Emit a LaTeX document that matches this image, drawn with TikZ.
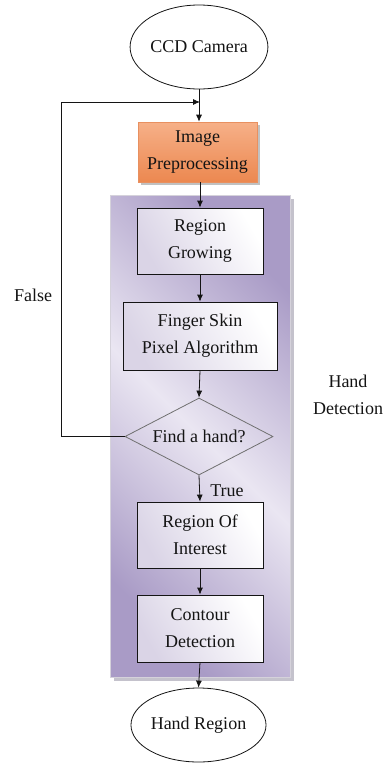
\documentclass[tikz,border=0pt]{standalone}
\usepackage{fontspec}
\setmainfont{Liberation Serif}
\newfontfamily\diagfont{Liberation Serif}
\usetikzlibrary{shapes.geometric,shadows,arrows.meta}
\definecolor{ink}{HTML}{141414}
\definecolor{orangetop}{HTML}{F6B088}
\definecolor{orangebot}{HTML}{EC8850}
\definecolor{orangeedge}{HTML}{E89060}
\definecolor{pdark}{HTML}{A99BC6}
\definecolor{plight}{HTML}{EAE6F2}
\definecolor{boxlav}{HTML}{DAD4E6}
\definecolor{dgray}{HTML}{707070}
\definecolor{panelshadow}{HTML}{C4C2CC}
\begin{document}
\begin{tikzpicture}[x=1pt,y=-1pt,
  every node/.style={font=\diagfont\fontsize{18}{27}\selectfont, text=ink, align=center, inner sep=0pt},
  terminal/.style={ellipse, draw=ink, line width=0.8pt, fill=white},
  prebox/.style={rectangle, draw=orangeedge, line width=0.6pt, top color=orangetop, bottom color=orangebot,
    drop shadow={shadow xshift=3pt, shadow yshift=-3pt, fill=gray!70, opacity=0.7}},
  stepbox/.style={rectangle, draw=ink, line width=0.8pt, left color=white, right color=boxlav, shading angle=-60},
  decision/.style={diamond, draw=dgray, line width=0.8pt, aspect=1.9},
  flow/.style={draw=ink, line width=0.8pt, -{Latex[length=7pt,width=6pt]}},
  label/.style={font=\diagfont\fontsize{18}{27}\selectfont}
]
\useasboundingbox (0,0) rectangle (384,763);

% detection panel with its shadow
\fill[panelshadow] (114,199) rectangle (294,681);
\shade[top color=pdark, bottom color=pdark, middle color=plight, shading angle=-45]
  (110,195) rectangle (290,677);
\draw[plight!80!gray, line width=0.5pt] (110,195) rectangle (290,677);

% nodes
\node[terminal, minimum width=128pt, minimum height=84pt] (cam) at (199,47) {CCD Camera};
\node[prebox, minimum width=119pt, minimum height=60pt] (pre) at (197.5,152) {Image\\Preprocessing};
\node[stepbox, minimum width=126pt, minimum height=66pt] (rg) at (200,241) {Region\\Growing};
\node[stepbox, minimum width=154pt, minimum height=68pt] (fs) at (200,336) {Finger Skin\\Pixel Algorithm};
\node[decision, minimum width=148pt, minimum height=77pt] (dec) at (199,436.5) {Find a hand?};
\node[stepbox, minimum width=126pt, minimum height=66pt] (roi) at (200,535) {Region Of\\Interest};
\node[stepbox, minimum width=126pt, minimum height=67pt] (cd) at (200,628.5) {Contour\\Detection};
\node[terminal, minimum width=129pt, minimum height=74pt] (hr) at (198.5,725) {Hand Region};

\node[label] (false) at (33,295) {False};
\node[label] (true) at (227,491) {True};
\node[label] (hd) at (348,395) {Hand\\Detection};

% connectors
\coordinate (join) at (200,102);
\coordinate (loop) at (61,436.5);
\draw[flow] (cam.south) -- (pre.north -| cam.south);
\draw[flow] (dec.west) -- (loop) |- (join);
\draw[flow] (pre.south -| rg.north) -- (rg.north);
\draw[flow] (rg) -- (fs);
\draw[flow] (fs.south) -- (dec.north);
\draw[flow] (dec.south) -- (roi.north);
\draw[flow] (roi) -- (cd);
\draw[flow] (cd.south) -- (hr.north);
\end{tikzpicture}
\end{document}
